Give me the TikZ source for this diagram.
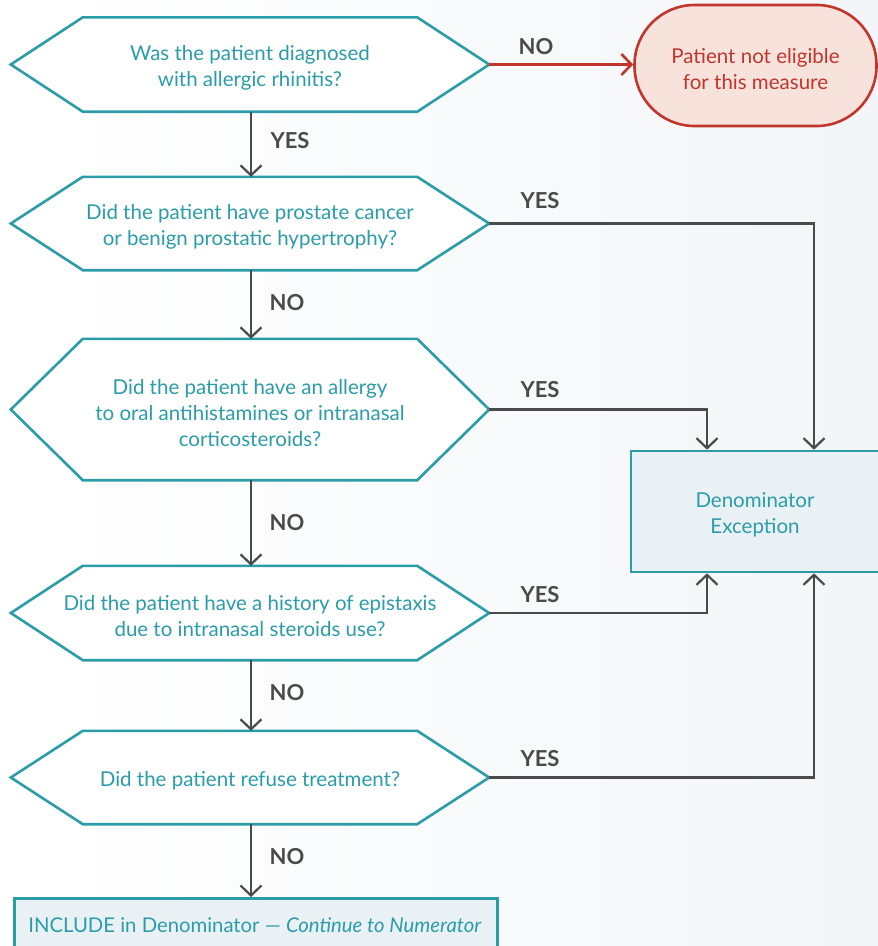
\documentclass[tikz,border=0pt]{standalone}
\usepackage{fontspec}
\setmainfont{Lato}
\usetikzlibrary{arrows.meta,calc}
\definecolor{tealc}{HTML}{2A9DA8}
\definecolor{redc}{HTML}{C1352B}
\definecolor{redfill}{HTML}{F7E3DC}
\definecolor{boxfill}{HTML}{E9F1F4}
\definecolor{grayc}{HTML}{4A4A4A}
\definecolor{bgl}{HTML}{F6F7F9}
\definecolor{bgr}{HTML}{ECF0F4}
\pgfdeclarelayer{bglayer}
\pgfdeclarelayer{shapes}
\pgfsetlayers{bglayer,shapes,main}
\pgfdeclarehorizontalshading{bgshade}{100bp}{color(0bp)=(bgl); color(9bp)=(white); color(28bp)=(white); color(100bp)=(bgr)}
\tikzset{
  qshape/.style={minimum width=334pt, inner sep=0pt},
  ttext/.style={inner sep=0pt, align=center, text=tealc, font=\fontsize{20.5}{26}\selectfont},
  hexline/.style={draw=tealc, line width=2.6pt, fill=white, line join=miter},
  lbl/.style={text=grayc, font=\bfseries\fontsize{22}{24}\selectfont, inner sep=0pt},
  arr/.style={draw=grayc, line width=2.2pt, -{Straight Barb[length=10pt,width=21pt,line width=2.2pt]}},
  rarr/.style={draw=redc, line width=2.6pt, -{Straight Barb[length=10pt,width=21pt,line width=2.6pt]}},
  endbox/.style={draw=tealc, line width=2.6pt, fill=boxfill, inner sep=0pt},
}
\newcommand\hexq[4]{%
  \node[qshape, minimum height=#3] (#1) at (250,#2) {};
  \node[ttext] (#1t) at ([yshift=-3.5pt]#1.center) {#4};
  \coordinate (#1r) at ([xshift=72pt]#1.east);
  \coordinate (#1l) at ([xshift=-72pt]#1.west);
  \begin{pgfonlayer}{shapes}
  \draw[hexline] (#1.north west) -- (#1.north east) -- (#1r) -- (#1.south east) -- (#1.south west) -- (#1l) -- cycle;
  \end{pgfonlayer}
}
\begin{document}
\begin{tikzpicture}[x=1pt,y=-1pt]
\clip (0,0) rectangle (878,946);
\useasboundingbox (0,0) rectangle (878,946);
\begin{pgfonlayer}{bglayer}
\shade[shading=bgshade] (0,0) rectangle (878,946);
\end{pgfonlayer}

\hexq{q1}{64.5}{94}{Was the patient diagnosed\\with allergic rhinitis?}
\hexq{q2}{223.5}{93}{Did the patient have prostate cancer\\or benign prostatic hypertrophy?}
\hexq{q3}{409.5}{141}{Did the patient have an allergy\\to oral antihistamines or intranasal\\corticosteroids?}
\hexq{q4}{613}{94}{Did the patient have a history of epistaxis\\due to intranasal steroids use?}
\hexq{q5}{777.5}{93}{Did the patient refuse treatment?}

\node[draw=redc, line width=2.6pt, fill=redfill, rounded corners=60pt, minimum width=242pt, minimum height=121pt, inner sep=0pt] (ne) at (755.5,65.5) {};
\node[ttext, text=redc] (net) at ([yshift=-3.5pt]ne.center) {Patient not eligible\\for this measure};

\node[endbox, minimum width=248pt, minimum height=121pt] (den) at (755,511.5) {};
\node[ttext] (dent) at ([yshift=-3.5pt]den.center) {Denominator\\Exception};

\node[endbox, minimum width=483pt, minimum height=60pt, anchor=north west] (inc) at (13,897) {};
\node[ttext, font=\fontsize{20.3}{26}\selectfont] (inct) at (255,925) {INCLUDE in Denominator --- \textit{Continue to Numerator}};

\coordinate (xa) at (707,0);
\coordinate (xb) at (814,0);

% main flow
\draw[arr] (q1.south -| 251,0) -- (q2.north -| 251,0);
\draw[arr] (q2.south -| 251,0) -- (q3.north -| 251,0);
\draw[arr] (q3.south -| 251,0) -- (q4.north -| 251,0);
\draw[arr] (q4.south -| 251,0) -- (q5.north -| 251,0);
\draw[arr] (q5.south -| 251,0) -- (inc.north -| 251,0);

\draw[rarr] (q1r) -- (q1r -| ne.west);

\draw[arr] (q2r) -| (den.north -| xb);
\draw[arr] (q3r) -| (den.north -| xa);
\draw[arr] (q4r) -| (den.south -| xa);
\draw[arr] (q5r) -| (den.south -| xb);

% labels
\node[lbl] (l1) at (536,47) {NO};
\node[lbl] (l2) at (290,141) {YES};
\node[lbl] (l3) at (287,303) {NO};
\node[lbl] (l4) at (287,523) {NO};
\node[lbl] (l5) at (287,693) {NO};
\node[lbl] (l6) at (287,857) {NO};
\node[lbl] (l7) at (540,201) {YES};
\node[lbl] (l8) at (540,390) {YES};
\node[lbl] (l9) at (540,595) {YES};
\node[lbl] (l10) at (540,759) {YES};
\end{tikzpicture}
\end{document}
